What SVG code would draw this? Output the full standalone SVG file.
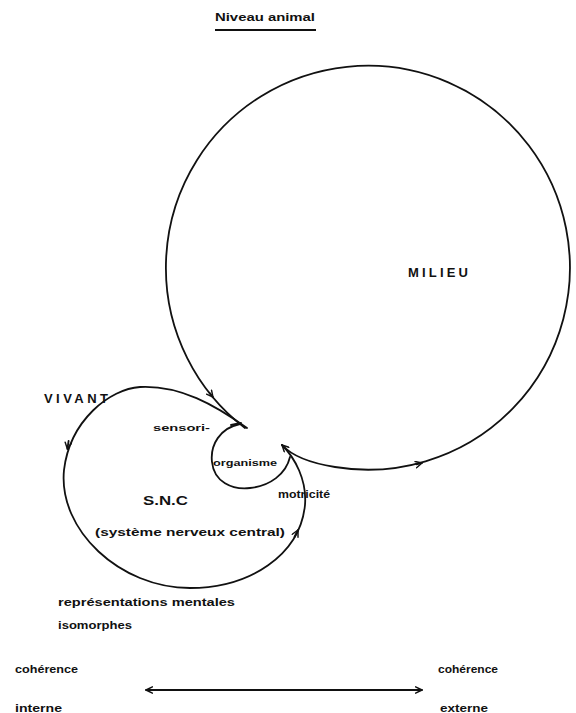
<svg xmlns="http://www.w3.org/2000/svg" width="576" height="713" viewBox="0 0 576 713">
<style>
.ln{fill:none;stroke:#111;stroke-width:1.8;stroke-linecap:round;stroke-linejoin:round}
.t{font-family:"Liberation Sans",Arial,sans-serif;font-weight:bold;fill:#111}
</style>
<defs>
<marker id="chev" viewBox="0 0 10 10" refX="9" refY="5" markerWidth="8" markerHeight="8" markerUnits="userSpaceOnUse" orient="auto-start-reverse">
<path d="M1,1 L9,5 L1,9" fill="none" stroke="#111" stroke-width="1.8" stroke-linecap="round" stroke-linejoin="round"/>
</marker>
</defs>
<rect width="576" height="713" fill="#fff"/>

<g id="title">
<text class="t" x="215" y="21" font-size="11" textLength="100" lengthAdjust="spacingAndGlyphs">Niveau animal</text>
<line x1="215" y1="30" x2="316" y2="30" stroke="#111" stroke-width="2"/>
</g>

<g id="connectors">
<path id="milieu-loop" class="ln" d="M282,445 C292,456 310,463 335,467 A202,202 0 1 0 245,428"/>
<path class="ln" d="M416.5,464.4 L422,463" marker-end="url(#chev)"/>
<path class="ln" d="M209.5,392.8 L213,397.2" marker-end="url(#chev)"/>
<path id="vivant-loop" class="ln" d="M247,428 C215,405 180,385 140,387 C110,389 70,420 64,470 C58,530 120,588 190,588 C250,588 300,555 305,505 C307,480 295,458 282,445" marker-end="url(#chev)"/>
<path class="ln" d="M68.6,441 L67.4,449" marker-end="url(#chev)"/>
<path class="ln" d="M294.5,537 L298,530" marker-end="url(#chev)"/>
<path id="organisme-loop" class="ln" d="M240,424 C220,428 210,445 212,462 C214,482 232,490 250,488 C270,486 286,474 290,457"/>
<line class="ln" x1="231" y1="425" x2="241" y2="423" stroke-width="2"/>
<line id="coherence-arrow" class="ln" x1="146" y1="690" x2="422" y2="690" marker-start="url(#chev)" marker-end="url(#chev)"/>
</g>

<g id="milieu">
<text class="t" x="408" y="276.5" font-size="13" textLength="60" lengthAdjust="spacing">MILIEU</text>
</g>

<g id="vivant">
<text class="t" x="44" y="402.5" font-size="13" textLength="64" lengthAdjust="spacing">VIVANT</text>
</g>

<g id="sensori">
<text class="t" x="153" y="431" font-size="9.5" textLength="57" lengthAdjust="spacingAndGlyphs">sensori-</text>
</g>

<g id="organisme">
<text class="t" x="213" y="466" font-size="9" textLength="64" lengthAdjust="spacingAndGlyphs">organisme</text>
</g>

<g id="motricite">
<text class="t" x="278" y="498" font-size="10" textLength="52" lengthAdjust="spacingAndGlyphs">motricité</text>
</g>

<g id="snc">
<text class="t" x="143" y="505" font-size="13.5" textLength="45" lengthAdjust="spacingAndGlyphs">S.N.C</text>
<text class="t" x="95" y="536" font-size="10" textLength="190" lengthAdjust="spacingAndGlyphs">(système nerveux central)</text>
</g>

<g id="representations">
<text class="t" x="58" y="606" font-size="10" textLength="177" lengthAdjust="spacingAndGlyphs">représentations mentales</text>
<text class="t" x="58" y="629" font-size="10" textLength="74" lengthAdjust="spacingAndGlyphs">isomorphes</text>
</g>

<g id="coherence-interne">
<text class="t" x="15" y="673" font-size="10" textLength="63" lengthAdjust="spacingAndGlyphs">cohérence</text>
<text class="t" x="15" y="712" font-size="10" textLength="47" lengthAdjust="spacingAndGlyphs">interne</text>
</g>

<g id="coherence-externe">
<text class="t" x="438" y="673" font-size="10" textLength="60" lengthAdjust="spacingAndGlyphs">cohérence</text>
<text class="t" x="440" y="712" font-size="10" textLength="48" lengthAdjust="spacingAndGlyphs">externe</text>
</g>
</svg>
